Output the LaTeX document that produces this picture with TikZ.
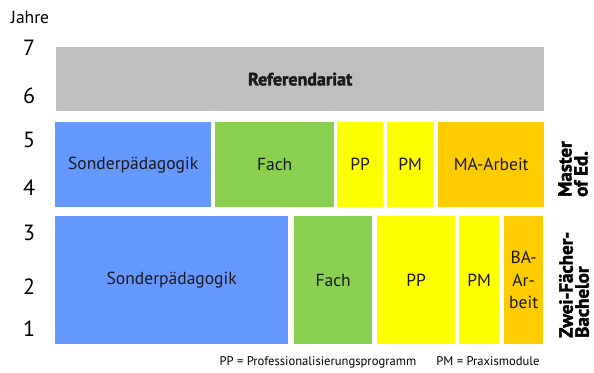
\documentclass[tikz,border=0pt]{standalone}
\usepackage{fontspec}
\setmainfont{PT Sans}
\newfontfamily\dickfont{PT Sans}[FakeBold=2]
\usepackage{tikz}
\usetikzlibrary{positioning}
\definecolor{sonderblau}{RGB}{102,153,255}
\definecolor{fachgruen}{RGB}{137,207,80}
\definecolor{praxisgelb}{RGB}{255,255,0}
\definecolor{arbeitorange}{RGB}{255,204,0}
\definecolor{refgrau}{RGB}{191,191,191}

\tikzset{
    feld/.style={anchor=north west, inner sep=0pt, align=center, text=black!90,
        font=\fontsize{17.5}{22.5}\selectfont},
    jahr/.style={font=\fontsize{22}{24}\selectfont},
    phase/.style={rotate=90, anchor=west, inner sep=0pt, align=left,
        font=\fontsize{19}{16}\selectfont\dickfont\bfseries}
}

\begin{document}
\begin{tikzpicture}[x=1pt, y=-1pt]
    \useasboundingbox (0,0) rectangle (594,372);

    % Jahre
    \node[font=\fontsize{17.5}{18}\selectfont] (jahre) at (30,17) {Jahre};
    \node[jahr] (j7) at (29,48) {7};
    \node[jahr] (j6) at (29,96) {6};
    \node[jahr] (j5) at (29,140) {5};
    \node[jahr] (j4) at (29,188) {4};
    \node[jahr] (j3) at (29,233) {3};
    \node[jahr] (j2) at (29,287) {2};
    \node[jahr] (j1) at (29,329) {1};

    % Referendariat
    \node[feld, fill=refgrau, minimum width=488, minimum height=64,
        font=\fontsize{18}{18}\selectfont\dickfont\bfseries] (ref) at (56,47) {Referendariat};

    % Master of Ed.
    \node[feld, fill=sonderblau, minimum width=156, minimum height=85] (msonder) at (55,122) {Sonderpädagogik};
    \node[feld, fill=fachgruen, minimum width=119, minimum height=85] (mfach) at (215,122) {Fach};
    \node[feld, fill=praxisgelb, minimum width=46, minimum height=85] (mpp) at (337,122) {PP};
    \node[feld, fill=praxisgelb, minimum width=46, minimum height=85] (mpm) at (387,122) {PM};
    \node[feld, fill=arbeitorange, minimum width=106, minimum height=85] (marbeit) at (438,122) {MA-Arbeit};
    \node[phase] (master) at (573,197) {Master\\of Ed.};

    % Zwei-Faecher-Bachelor
    \node[feld, fill=sonderblau, minimum width=233, minimum height=128] (bsonder) at (55,216) {Sonderpädagogik};
    \node[feld, fill=fachgruen, minimum width=78, minimum height=128] (bfach) at (294,216) {Fach};
    \node[feld, fill=praxisgelb, minimum width=78, minimum height=128] (bpp) at (377,216) {PP};
    \node[feld, fill=praxisgelb, minimum width=40, minimum height=128] (bpm) at (459,216) {PM};
    \node[feld, fill=arbeitorange, minimum width=39, minimum height=128] (barbeit) at (504,216) {BA-\\Ar-\\beit};
    \node[phase] (bachelor) at (574,338) {Zwei-Fächer-\\Bachelor};

    % Legende
    \node[anchor=east, font=\fontsize{12.6}{14}\selectfont] (legende) at (543,362)
        {PP = Professionalisierungsprogramm\hspace{1.6em}PM = Praxismodule};
\end{tikzpicture}
\end{document}
